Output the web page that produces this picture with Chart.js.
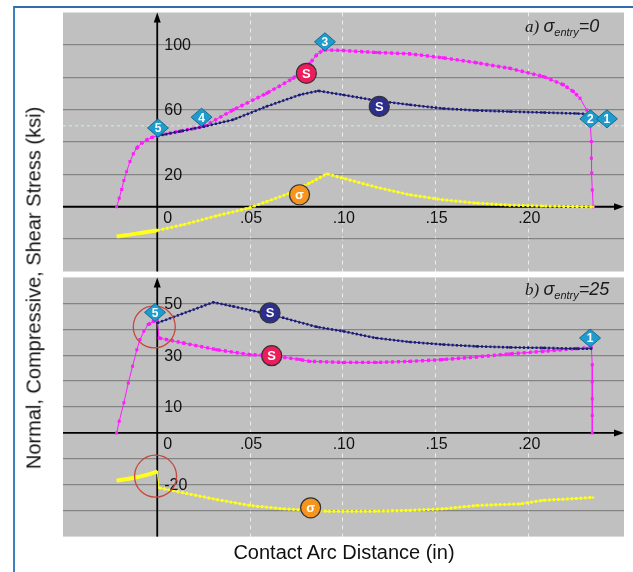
<!DOCTYPE html>
<html>
<head>
<meta charset="utf-8">
<style>
  html, body { margin: 0; padding: 0; background: #fff; }
  #wrap { position: relative; width: 633px; height: 572px; overflow: hidden; font-family: "Liberation Sans", Arial, sans-serif; }
  #frame { position: absolute; left: 13px; top: 6px; width: 700px; height: 700px; border-left: 2px solid #3d80c0; border-top: 2px solid #2f6eab; }
  canvas { position: absolute; left: 0; }
  #chartA { top: 0; }
  #chartB { top: 274px; }
  #xTitle { position: absolute; left: 344px; top: 552px; transform: translate(-50%, -50%); font-size: 20px; color: #111; white-space: nowrap; }
  #yTitle { position: absolute; left: 34px; top: 288px; transform: translate(-50%, -50%) rotate(-90deg); font-size: 20px; color: #111; white-space: nowrap; }
</style>
</head>
<body>
<div id="wrap">
  <div id="frame"></div>
  <canvas id="chartA" width="633" height="274"></canvas>
  <canvas id="chartB" width="633" height="298"></canvas>
  <div id="xTitle">Contact Arc Distance (in)</div>
  <div id="yTitle">Normal, Compressive, Shear Stress (ksi)</div>
</div>
<script src="https://cdn.jsdelivr.net/npm/chart.js"></script>
<script>
// shared x axis (contact arc distance, in)
const xMin = -0.0508, xMax = 0.2516;
const xGridVals = [0.05, 0.10, 0.15, 0.20];
const xTickVals = [0, 0.05, 0.10, 0.15, 0.20];
const xTickLabels = ['0', '.05', '.10', '.15', '.20'];

// ---- panel a) sigma_entry = 0 ----
const aYGrid = [-20, 20, 40, 60, 80, 100];
const aYTickVals = [100, 60, 20];
const aRefLine = [50];

const aPinkX = [-0.0219, -0.0205, -0.0192, -0.018, -0.0165, -0.0147, -0.0129, -0.0111, -0.0084, -0.0057, -0.003, 0,
  0.0125, 0.025, 0.041, 0.059, 0.0733, 0.0823, 0.0859, 0.0895, 0.1003, 0.118, 0.136, 0.154, 0.172, 0.190, 0.208,
  0.219, 0.2243, 0.2279, 0.2315, 0.2333, 0.234, 0.234, 0.2342, 0.2345, 0.235];
const aPinkY = [0, 5.2, 10.7, 16.2, 21.7, 27.9, 32.7, 36.2, 39.3, 41.3, 42.8, 43.8,
  46.8, 49.5, 59.9, 70.1, 79.4, 88.6, 93.8, 96.9, 96.5, 95.3, 94.5, 92, 89, 85.5, 80.5,
  75.3, 71.2, 67, 59.8, 53.7, 40.3, 30, 20.8, 10.4, 0];

const aNavyX = [0, 0.0125, 0.025, 0.041, 0.059, 0.077, 0.0868, 0.1003, 0.118, 0.136, 0.154, 0.172, 0.190, 0.208, 0.226, 0.2323];
const aNavyY = [43.8, 46.6, 49.5, 53.8, 62, 69.2, 71.6, 69.1, 65.6, 63, 60.7, 59.5, 58.8, 58.2, 57.6, 57.2];

const aYellowThickX = [-0.0219, -0.0129, 0];
const aYellowThickY = [-18.3, -16.9, -14.6];
const aYellowX = [0, 0.014, 0.032, 0.049, 0.059, 0.0715, 0.0823, 0.0913, 0.1003, 0.118, 0.136, 0.154, 0.172, 0.190, 0.208, 0.226, 0.235];
const aYellowY = [-14.6, -11.1, -5.6, -0.9, 3.2, 8.4, 14.7, 20.3, 17.6, 12.1, 7.4, 4.3, 2.3, 1.0, 0.4, 0.1, 0];

const aDiamondX = [0.0004, 0.0239, 0.0904, 0.2335, 0.2424];
const aDiamondY = [48.7, 55.3, 101.9, 54.3, 54.3];
const aDiamondLbl = ['5', '4', '3', '2', '1'];
const aBadgeX = [0.0804, 0.1197, 0.0767];
const aBadgeY = [82.4, 62, 7.4];
const aBadgeKind = ['pink', 'navy', 'orange'];
const aCircleX = [];
const aCircleY = [];

// ---- panel b) sigma_entry = 25 ----
const bYGrid = [-30, -20, -10, 10, 20, 30, 40, 50];
const bYTickVals = [50, 30, 10, -20];
const bRefLine = [];

const bPinkX = [-0.0219, -0.0205, -0.018, -0.0156, -0.0133, -0.011, -0.0093, -0.0072, -0.0049, -0.0022, 0,
  0.001, 0.014, 0.032, 0.050, 0.0617, 0.077, 0.0823, 0.1003, 0.118, 0.136, 0.154, 0.172, 0.190, 0.208, 0.226, 0.234,
  0.2345, 0.2345, 0.2345, 0.2345, 0.2345];
const bPinkY = [0, 4.5, 11.6, 19.3, 25.7, 32.1, 36, 39.2, 41.8, 43, 43.4,
  36.6, 34.7, 32.1, 30.2, 29.8, 28.3, 27.6, 27.2, 27.2, 27.6, 28.3, 29.3, 30.5, 31.5, 32.5, 33,
  26.3, 19.7, 13.2, 6.7, 0];

const bNavyX = [0, 0.0302, 0.041, 0.0554, 0.068, 0.086, 0.1003, 0.118, 0.136, 0.154, 0.172, 0.190, 0.208, 0.226, 0.234];
const bNavyY = [42.4, 50.4, 48.8, 46.5, 44.4, 40.9, 39.2, 36.6, 35.1, 34.1, 33.4, 33, 32.8, 32.5, 32.5];

const bYellowThickX = [-0.0219, -0.0129, -0.0057, 0];
const bYellowThickY = [-18.4, -17.4, -16.2, -14.9];
const bYellowX = [0, 0.001, 0.014, 0.032, 0.050, 0.068, 0.0827, 0.0913, 0.118, 0.136, 0.154, 0.172, 0.1955, 0.208, 0.226, 0.235];
const bYellowY = [-15, -21.2, -23.1, -25.7, -28, -29.3, -29.9, -30.2, -30.2, -29.9, -29.3, -28, -27.4, -26, -25.3, -24.9];

const bDiamondX = [-0.0012, 0.2333];
const bDiamondY = [46.5, 36.6];
const bDiamondLbl = ['5', '1'];
const bBadgeX = [0.0608, 0.0617, 0.0827];
const bBadgeY = [46.3, 29.8, -28.9];
const bBadgeKind = ['navy', 'pink', 'orange'];
const bCircleX = [-0.0016, -0.0009];
const bCircleY = [40.9, -16.7];

const PINK = '#ff1aff', NAVY = '#1b1b78', YELLOW = '#ffff1a';
const badgeStyle = {
  pink: { fill: '#ee1c5c', text: 'S' },
  navy: { fill: '#2d2f8e', text: 'S' },
  orange: { fill: '#f6951e', text: '\u03c3' }
};

function pts(xs, ys) { return xs.map((x, i) => ({ x: x, y: ys[i] })); }
function steep(c) { return Math.abs(c.p1.y - c.p0.y) > 1.5 * Math.abs(c.p1.x - c.p0.x); }

function curve(xs, ys, color, dotW, dash, ptR) {
  return [
    { data: pts(xs, ys), borderColor: color, backgroundColor: color, borderWidth: 1, pointStyle: 'rect',
      pointRadius: ptR, pointBackgroundColor: color, pointBorderWidth: 0, tension: 0 },
    { data: pts(xs, ys), borderColor: color, borderWidth: dotW, borderDash: dash, pointRadius: 0, tension: 0,
      segment: { borderColor: c => steep(c) ? 'rgba(0,0,0,0)' : color } }
  ];
}

function drawParts(ctx, x, y, parts) {
  let cx = x;
  parts.forEach(p => {
    ctx.font = p.f;
    ctx.fillText(p.t, cx, y + (p.dy || 0));
    cx += ctx.measureText(p.t).width;
  });
}

function makeDecor(cfg) {
  return {
    id: 'decor',
    beforeDraw(chart) {
      const { ctx, chartArea: a } = chart;
      ctx.save();
      ctx.fillStyle = '#c0c0c0';
      ctx.fillRect(a.left, a.top, a.right - a.left, a.bottom - a.top);
      ctx.restore();
    },
    beforeDatasetsDraw(chart) {
      const { ctx, chartArea: a, scales: { x, y } } = chart;
      ctx.save();
      // reference dashed line
      ctx.strokeStyle = '#c6eef2';
      ctx.lineWidth = 1;
      ctx.setLineDash([3, 3]);
      cfg.refLine.forEach(v => {
        const py = y.getPixelForValue(v);
        ctx.beginPath(); ctx.moveTo(a.left, py); ctx.lineTo(a.right, py); ctx.stroke();
      });
      ctx.setLineDash([]);
      // axes through the origin with arrow heads
      const x0 = x.getPixelForValue(0), y0 = y.getPixelForValue(0);
      ctx.strokeStyle = '#000';
      ctx.fillStyle = '#000';
      ctx.lineWidth = 1.8;
      ctx.beginPath(); ctx.moveTo(x0, a.bottom); ctx.lineTo(x0, a.top + 4); ctx.stroke();
      ctx.beginPath(); ctx.moveTo(x0, a.top); ctx.lineTo(x0 - 3.5, a.top + 10); ctx.lineTo(x0 + 3.5, a.top + 10); ctx.closePath(); ctx.fill();
      ctx.beginPath(); ctx.moveTo(a.left, y0); ctx.lineTo(a.right - 4, y0); ctx.stroke();
      ctx.beginPath(); ctx.moveTo(a.right, y0); ctx.lineTo(a.right - 10, y0 - 3.5); ctx.lineTo(a.right - 10, y0 + 3.5); ctx.closePath(); ctx.fill();
      ctx.restore();
    },
    afterDatasetsDraw(chart) {
      const { ctx, chartArea: a, scales: { x, y } } = chart;
      const x0 = x.getPixelForValue(0), y0 = y.getPixelForValue(0);
      ctx.save();
      // tick labels inside the plot
      ctx.fillStyle = '#111';
      ctx.font = '16px "Liberation Sans", Arial, sans-serif';
      ctx.textBaseline = 'middle';
      ctx.textAlign = 'left';
      cfg.yTicks.forEach(v => ctx.fillText(String(v), x0 + 7, y.getPixelForValue(v) + 1));
      xTickVals.forEach((v, i) => {
        if (v === 0) { ctx.textAlign = 'left'; ctx.fillText(xTickLabels[i], x0 + 6, y0 + 11.5); }
        else { ctx.textAlign = 'center'; ctx.fillText(xTickLabels[i], x.getPixelForValue(v) + 1, y0 + 11.5); }
      });
      // red highlight circles
      ctx.strokeStyle = '#c8463c';
      ctx.lineWidth = 1.3;
      cfg.circleX.forEach((v, i) => {
        ctx.beginPath();
        ctx.arc(x.getPixelForValue(v), y.getPixelForValue(cfg.circleY[i]), 21, 0, Math.PI * 2);
        ctx.stroke();
      });
      // numbered diamonds
      cfg.diamondX.forEach((v, i) => {
        const px = x.getPixelForValue(v), py = y.getPixelForValue(cfg.diamondY[i]);
        ctx.beginPath();
        ctx.moveTo(px - 10.5, py); ctx.lineTo(px, py - 9); ctx.lineTo(px + 10.5, py); ctx.lineTo(px, py + 9);
        ctx.closePath();
        ctx.fillStyle = '#1f9ccb';
        ctx.fill();
        ctx.strokeStyle = '#146c94';
        ctx.lineWidth = 1;
        ctx.stroke();
        ctx.fillStyle = '#fff';
        ctx.font = 'bold 12px "Liberation Sans", Arial, sans-serif';
        ctx.textAlign = 'center';
        ctx.textBaseline = 'middle';
        ctx.fillText(cfg.diamondLbl[i], px, py + 1);
      });
      // round series badges
      cfg.badgeX.forEach((v, i) => {
        const st = badgeStyle[cfg.badgeKind[i]];
        const px = x.getPixelForValue(v), py = y.getPixelForValue(cfg.badgeY[i]);
        ctx.beginPath();
        ctx.arc(px, py, 10, 0, Math.PI * 2);
        ctx.fillStyle = st.fill;
        ctx.fill();
        ctx.strokeStyle = '#333';
        ctx.lineWidth = 1.2;
        ctx.stroke();
        ctx.fillStyle = '#fff';
        ctx.font = 'bold 13px "Liberation Sans", Arial, sans-serif';
        ctx.textAlign = 'center';
        ctx.textBaseline = 'middle';
        ctx.fillText(st.text, px, py + 1);
      });
      // panel caption
      ctx.fillStyle = '#1a1a1a';
      ctx.textAlign = 'left';
      ctx.textBaseline = 'alphabetic';
      drawParts(ctx, a.right - 99, a.top + cfg.titleDy, [
        { t: cfg.letter + ')', f: 'italic 17px "Liberation Serif", serif' },
        { t: ' ', f: '17px "Liberation Serif", serif' },
        { t: '\u03c3', f: 'italic 18px "Liberation Sans", Arial, sans-serif' },
        { t: 'entry', f: 'italic 11px "Liberation Sans", Arial, sans-serif', dy: 4 },
        { t: '=' + cfg.entry, f: 'italic 18px "Liberation Sans", Arial, sans-serif' }
      ]);
      ctx.restore();
    }
  };
}

function makeChart(id, p) {
  const datasets = []
    .concat(curve(p.yellowX, p.yellowY, YELLOW, 3, [2.5, 2], 1.5))
    .concat([{ data: pts(p.yThickX, p.yThickY), borderColor: YELLOW, borderWidth: 4, pointRadius: 0, tension: 0.3 }])
    .concat(curve(p.navyX, p.navyY, NAVY, 2.6, [2, 2.2], 1.5))
    .concat(curve(p.pinkX, p.pinkY, PINK, 3.4, [3, 3], 2.1));
  return new Chart(document.getElementById(id), {
    type: 'line',
    data: { datasets: datasets },
    options: {
      responsive: false,
      animation: false,
      events: [],
      layout: { autoPadding: false, padding: p.padding },
      plugins: { legend: { display: false }, tooltip: { enabled: false } },
      scales: {
        x: {
          type: 'linear', min: xMin, max: xMax,
          afterBuildTicks: s => { s.ticks = xGridVals.map(v => ({ value: v })); },
          ticks: { display: false },
          border: { display: false, dash: [4, 4] },
          grid: { color: 'rgba(245,245,245,0.85)', lineWidth: 1, drawTicks: false }
        },
        y: {
          type: 'linear', min: p.yMin, max: p.yMax,
          afterBuildTicks: s => { s.ticks = p.yGrid.map(v => ({ value: v })); },
          ticks: { display: false },
          border: { display: false },
          grid: { color: '#848484', lineWidth: 1.3, drawTicks: false }
        }
      }
    },
    plugins: [makeDecor(p.decor)]
  });
}

makeChart('chartA', {
  yMin: -40, yMax: 120, yGrid: aYGrid,
  padding: { left: 63, top: 12.5, right: 9, bottom: 2.5 },
  pinkX: aPinkX, pinkY: aPinkY, navyX: aNavyX, navyY: aNavyY,
  yellowX: aYellowX, yellowY: aYellowY, yThickX: aYellowThickX, yThickY: aYellowThickY,
  decor: {
    yTicks: aYTickVals, refLine: aRefLine,
    diamondX: aDiamondX, diamondY: aDiamondY, diamondLbl: aDiamondLbl,
    badgeX: aBadgeX, badgeY: aBadgeY, badgeKind: aBadgeKind,
    circleX: aCircleX, circleY: aCircleY,
    letter: 'a', entry: '0', titleDy: 19
  }
});

makeChart('chartB', {
  yMin: -40, yMax: 60, yGrid: bYGrid,
  padding: { left: 63, top: 3.4, right: 9, bottom: 35.4 },
  pinkX: bPinkX, pinkY: bPinkY, navyX: bNavyX, navyY: bNavyY,
  yellowX: bYellowX, yellowY: bYellowY, yThickX: bYellowThickX, yThickY: bYellowThickY,
  decor: {
    yTicks: bYTickVals, refLine: bRefLine,
    diamondX: bDiamondX, diamondY: bDiamondY, diamondLbl: bDiamondLbl,
    badgeX: bBadgeX, badgeY: bBadgeY, badgeKind: bBadgeKind,
    circleX: bCircleX, circleY: bCircleY,
    letter: 'b', entry: '25', titleDy: 18
  }
});
</script>
</body>
</html>
